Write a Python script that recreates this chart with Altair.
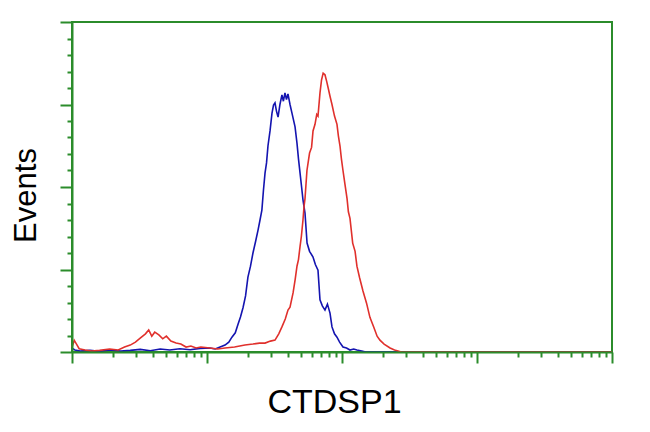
import altair as alt
import pandas as pd

# Blue histogram (control)
blue_x = [1.0, 1.05, 1.15, 1.36, 1.6, 1.9, 2.3, 2.7, 3.2, 3.8, 4.5, 5.3, 6.3, 7.5, 8.9,
          10.5, 11.5, 12.5, 13.6, 14.5, 15.3, 16.2, 17.0, 17.7, 18.5, 19.3, 20.1, 21.0,
          21.9, 22.9, 23.9, 24.7, 25.5, 26.2, 26.9, 27.6, 28.3, 29.3, 30.3, 31.1, 31.9,
          32.7, 33.6, 34.7, 35.9, 36.8, 37.8, 38.8, 39.8, 41.2, 42.6, 44.9, 46.4, 47.6,
          48.9, 50.2, 51.4, 53.2, 55.1, 57.5, 61.0, 63.5, 66.4, 68.7, 71.5, 74.8, 78.0,
          81.5, 84.3, 88.0, 91.8, 96.0, 101.7, 108.0, 114.6, 122.0, 129.0, 140.0, 150.0,
          10000.0]
blue_y = [1.2, 0.6, 0.3, 0.5, 0.2, 0.6, 0.3, 0.5, 0.8, 0.4, 0.9, 0.6, 1.0, 0.7, 1.1,
          1.2, 0.9, 1.5, 2.1, 3.0, 4.5, 5.8, 8.5, 10.6, 13.5, 17.0, 22.7, 26.0,
          30.0, 33.5, 37.0, 40.0, 43.0, 49.1, 54.2, 57.3, 62.5, 67.0, 72.4, 74.8, 75.5,
          73.0, 71.2, 75.0, 77.9, 76.0, 78.5, 76.5, 78.2, 75.0, 72.4, 68.2, 63.3, 58.5,
          54.2, 50.0, 46.1, 42.1, 33.0, 30.5, 28.8, 26.5, 24.8, 15.8, 14.0, 12.7, 14.5,
          11.8, 7.6, 5.5, 4.5, 3.0, 1.5, 1.2, 0.6, 0.9, 0.6, 0.3, 0.0,
          0.0]

# Red histogram (CTDSP1)
red_x = [1.0, 1.04, 1.08, 1.13, 1.25, 1.4, 1.6, 1.9, 2.2, 2.45, 2.7, 2.95, 3.2, 3.5, 3.7,
         3.9, 4.1, 4.4, 4.7, 5.0, 5.4, 5.9, 6.4, 7.0, 7.6, 8.3, 9.0, 10.5, 12.0, 13.6,
         16.0, 19.1, 21.9, 24.5, 26.9, 29.5, 31.9, 34.0, 35.9, 38.0, 39.8, 41.2, 43.4,
         45.0, 46.4, 47.6, 48.9, 50.0, 51.4, 52.3, 53.2, 55.0, 57.5, 59.5, 61.0, 63.1,
         65.0, 66.4, 68.7, 70.5, 72.5, 74.8, 77.0, 79.0, 81.5, 84.3, 88.0, 91.8, 94.0,
         96.6, 99.0, 101.7, 105.0, 109.0, 111.5, 114.6, 120.0, 125.0, 129.0, 135.0,
         143.0, 152.0, 161.0, 172.0, 182.0, 191.0, 205.0, 227.0, 245.0, 260.0, 275.0,
         10000.0]
red_y = [1.5, 3.5, 2.4, 1.0, 0.6, 0.3, 0.5, 0.9, 0.6, 1.5, 2.1, 3.0, 4.2, 5.5, 6.7,
         4.8, 6.0, 5.2, 4.0, 4.8, 3.3, 2.7, 2.4, 1.5, 1.8, 1.2, 1.5, 1.2, 0.9, 1.2,
         1.5, 2.1, 2.4, 2.7, 2.7, 3.3, 3.6, 5.5, 7.6, 10.0, 12.7, 13.6, 17.9,
         22.0, 26.0, 28.0, 32.0, 35.0, 40.0, 44.0, 46.5, 55.0, 60.3, 62.0, 67.0, 69.0,
         72.0, 71.5, 78.5, 82.4, 84.5, 84.0, 82.0, 80.0, 77.5, 75.0, 71.5, 69.0, 65.5,
         62.5, 58.5, 55.0, 51.0, 46.5, 42.5, 40.5, 33.0, 30.5, 26.0, 22.5,
         18.5, 14.8, 10.5, 7.5, 4.8, 3.6, 2.4, 1.2, 0.6, 0.3, 0.0,
         0.0]

series_names = ["Control", "CTDSP1"]
series_colors = ["#1414b0", "#e0302c"]

x_major = [1, 10, 100, 1000, 10000]
x_ticks = []
for d in [1, 10, 100, 1000]:
    for m in range(1, 10):
        x_ticks.append(d * m)
x_ticks.append(10000)
y_ticks = list(range(0, 101, 5))

df = pd.concat([
    pd.DataFrame({"fl": blue_x, "events": blue_y, "series": series_names[0], "order": range(len(blue_x))}),
    pd.DataFrame({"fl": red_x, "events": red_y, "series": series_names[1], "order": range(len(red_x))}),
])

green = "#2b8c2b"

chart = alt.Chart(df).mark_line(strokeWidth=1.6).encode(
    x=alt.X("fl:Q", scale=alt.Scale(type="log", domain=[1, 10000], nice=False),
            axis=alt.Axis(title="CTDSP1", values=x_ticks, labels=False, grid=False,
                          domainColor=green, domainWidth=2, tickColor=green, tickWidth=2,
                          tickSize={"condition": {"test": "indexof(%s, datum.value) >= 0" % str(x_major), "value": 11}, "value": 5},
                          titleFont="Liberation Sans", titleFontSize=34, titleFontWeight="normal",
                          titleColor="black", titleX=262, titleY=60, titleAlign="center",
                          titleBaseline="alphabetic", zindex=1)),
    y=alt.Y("events:Q", scale=alt.Scale(domain=[0, 100], nice=False),
            axis=alt.Axis(title="Events", values=y_ticks, labels=False, grid=False,
                          domainColor=green, domainWidth=2, tickColor=green, tickWidth=2,
                          tickSize={"condition": {"test": "datum.value % 25 === 0", "value": 12}, "value": 5},
                          titleFont="Liberation Sans", titleFontSize=31, titleFontWeight="normal",
                          titleColor="black", titleX=-37, titleY=173, titleAngle=270,
                          titleAlign="center", titleBaseline="alphabetic", zindex=1)),
    color=alt.Color("series:N", scale=alt.Scale(domain=series_names, range=series_colors), legend=None),
    order="order:Q",
).properties(
    width=540, height=330,
    autosize=alt.AutoSizeParams(type="none"),
    padding={"left": 64, "top": 14, "right": 30, "bottom": 80},
).configure_view(stroke=green, strokeWidth=2)

chart.save("out.html", embed_options={"renderer": "svg", "actions": False})
